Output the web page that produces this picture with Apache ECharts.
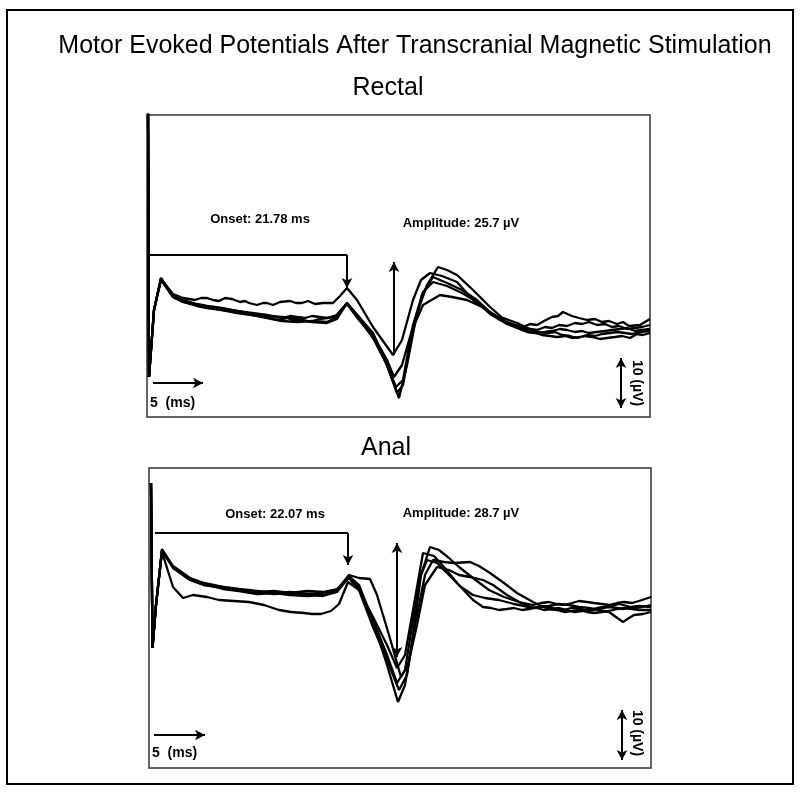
<!DOCTYPE html>
<html>
<head>
<meta charset="utf-8">
<script src="https://cdn.jsdelivr.net/npm/echarts@6/dist/echarts.min.js"></script>
<style>
  html, body { margin: 0; padding: 0; background: #fff; }
  #chart { width: 800px; height: 793px; }
</style>
</head>
<body>
<div id="chart"></div>
<script>
// traces: [time (ms), potential (µV)]
const rectal1 = [[0.1,45],[0.2,-10.4],[0.7,3],[1.4,9.2],[2.6,6.2],[3.6,5.4],[4.2,5.2],[4.8,5],[5.4,5.4],[6,5.4],[6.6,5],[7.2,4.8],[7.8,5.4],[8.5,5.2],[9.3,4.6],[9.8,4.8],[10.2,4.4],[11,4],[11.6,4.4],[12,4.4],[12.6,4],[13.3,4.6],[14.3,4.8],[14.9,4.4],[15.5,4.4],[16.1,4.8],[16.8,4.2],[17.6,4.4],[18.6,4.4],[19.3,5.8],[20,7.4],[21,5],[22.6,-0.4],[23.6,-3.2],[24.6,-6],[25.5,-3],[26.6,5],[27.4,9],[28.3,10.4],[29.5,9.8],[31,8.6],[32.6,5],[34,3],[35.3,1],[36.5,0.2],[37.6,-0.4],[38.3,0.2],[39,0],[39.7,0.8],[40.5,1.6],[41.1,1.8],[41.6,2.6],[42.5,1.8],[43.2,1.4],[44,1],[44.8,1.2],[45.5,0.6],[46.2,0.8],[47,0.2],[47.6,0.6],[48.2,-0.2],[49.3,0],[50.3,1.2]];
const rectal2 = [[0.1,45],[0.2,-10.4],[0.7,3],[1.4,9.4],[2.6,5.6],[3.6,4.6],[5,3.8],[6,3.4],[7.5,3],[9,2.6],[10.5,2],[12,1.6],[13,1],[14,1.4],[14.8,0.8],[15.5,1],[16.3,0.6],[17.2,1.2],[18.8,1.6],[20,4.4],[21.2,1.6],[22.6,-1.6],[23.8,-7],[24.8,-12.4],[25.2,-14.6],[26,-8],[27,2.4],[28,8],[29.1,11.6],[30,11],[31,10],[32.6,7],[34.3,3.6],[35.5,1.5],[37,0.4],[38.5,-1],[39.2,-1.4],[40,-1.6],[40.8,-1.4],[41.5,-2],[42.3,-2.2],[43,-2.6],[43.8,-2.2],[44.5,-2.4],[45.3,-2.8],[46,-2.6],[46.8,-2.4],[47.5,-2.2],[48.3,-2.6],[49,-1.8],[49.6,-2],[50.3,-1.6]];
const rectal3 = [[0.1,45],[0.2,-10.4],[0.7,3],[1.4,9],[2.6,5.6],[3.6,4.6],[5,4],[6,3.6],[7.5,3],[9,2.4],[10.5,2],[12,1.4],[13.5,0.8],[15,0.6],[16.5,0.8],[18,0.6],[18.8,1.4],[20,4.2],[21.2,1],[22.6,-2.2],[24,-8],[25,-13.6],[25.6,-12],[26.5,-2],[27.5,6],[28.6,9.6],[30,8.4],[31.5,7],[33,5],[34.3,2.6],[36,0.6],[37.5,-0.6],[38.3,-0.8],[39,-1],[39.8,-0.4],[40.5,-0.6],[41.2,0],[42,-0.2],[42.8,0.4],[43.5,0.2],[44.2,0.6],[45,0],[45.8,0.2],[46.5,-0.4],[47.2,-0.2],[48,-0.8],[48.8,-0.6],[49.5,-0.4],[50.3,0]];
const rectal4 = [[0.1,45],[0.2,-10.4],[0.7,3],[1.4,9.2],[2.6,5.8],[3.6,5],[5,4.2],[6,3.8],[7.5,3.4],[9,2.8],[10.5,2.2],[12,1.8],[13.5,1.6],[15,1.2],[16.5,0.6],[18,0.4],[19,1.2],[20,4.4],[21.2,1.2],[22.6,-2.6],[24,-8],[24.9,-12.4],[25.6,-11],[26.6,0],[27.6,6.6],[28.6,8.6],[30,7.8],[31.5,6.4],[33,4.6],[34.3,2.2],[36,0.2],[37.5,-1],[38.2,-1.2],[39,-1.6],[39.8,-1.4],[40.5,-1.2],[41.3,-0.8],[42,-1],[42.8,-1.4],[43.5,-1.2],[44.2,-1.6],[45,-1.4],[45.8,-1.2],[46.5,-1],[47.3,-0.8],[48,-0.6],[48.8,-1.2],[49.5,-1],[50.3,-0.8]];
const rectal5 = [[0.1,45],[0.2,-10.4],[0.7,3],[1.4,9.4],[2.6,5.6],[3.6,4.8],[5,4],[6,3.6],[7.5,3.2],[9,2.8],[10.5,2.4],[12,2],[13.5,1.4],[14.3,1.8],[15,1.6],[15.8,1.4],[16.5,1.8],[18,1.4],[19,2],[20,4.4],[21.2,1.6],[22.6,-2],[24,-7],[24.7,-10.4],[25.5,-8],[26.5,-1],[27.6,4],[29.3,6],[30.5,5.6],[32,5],[33.5,3.6],[35,1.6],[36.5,0],[38,-1.4],[38.8,-1.6],[39.5,-2],[40.3,-2.2],[41,-2.4],[41.8,-2.2],[42.5,-2.6],[43.3,-2.4],[44,-2],[44.8,-2.2],[45.5,-1.8],[46.3,-1.6],[47,-1.4],[47.8,-1.6],[48.5,-1.8],[49.3,-1.4],[50.3,-1.2]];

const anal1 = [[0.2,24.4],[0.35,-8.6],[0.7,0],[1.3,10.6],[2.4,3.6],[3.4,1.4],[4.4,2],[5.8,1.6],[7,1],[8.5,0.8],[10,0.6],[11.5,0],[13,-1],[14.2,-1.4],[15.5,-1.6],[16.3,-1.8],[17.2,-1.8],[18.2,-1.2],[19,0.2],[19.9,4.6],[21,3],[22.4,-2.4],[23.8,-8],[24.8,-12.6],[25.6,-10],[26.4,-1],[27.4,10.4],[28.5,9.8],[29.5,7.6],[30.8,4.4],[32.4,1],[33.4,-0.4],[34.2,-0.6],[35,-1],[35.8,-0.8],[36.5,-0.6],[37.3,-1],[38,-0.8],[39,-0.4],[40,-0.2],[41,0.2],[42,0],[43,-0.4],[44,-0.6],[45,-1],[46,-1.4],[46.7,-2.4],[47.4,-3.4],[48,-2.6],[48.5,-2],[49.4,-1.8],[50.2,-1.4]];
const anal2 = [[0.2,24.4],[0.35,-8.6],[0.7,0],[1.3,11],[2.4,7.6],[4.1,5],[5.5,4],[7.4,3.4],[9,3],[10.8,2.6],[12.5,2.8],[14.1,2.4],[15.8,2.2],[17.4,2.4],[18.8,3],[20,6],[21,5.4],[22.1,5.2],[22.8,2],[24,-6],[25.2,-14.4],[25.9,-12],[26.8,-4],[27.6,4],[28.8,7.6],[30,7],[31,6],[32.1,5.6],[33.4,5],[34.4,4],[35.8,2],[37.2,0.4],[38.5,-0.6],[39.2,-0.2],[40,-0.4],[40.8,-0.8],[41.5,-1],[42.2,-0.6],[43,-0.6],[43.8,-1.2],[44.5,-1],[45.3,-0.6],[46,-0.4],[46.8,-0.6],[47.5,-0.8],[48.2,-0.4],[49,-0.2],[50.2,-0.4]];
const anal3 = [[0.2,24.4],[0.35,-8.6],[0.7,0],[1.3,11],[2.4,7.6],[4.1,5.2],[5.5,4.2],[7.4,3.2],[9,2.8],[10.8,2.2],[12.5,2.4],[14.1,2],[15.8,1.8],[17.4,2],[18.8,3],[20,5.8],[21,4],[22.4,-3.2],[23.8,-12],[24.9,-19.4],[25.6,-16],[26.4,-6],[27.2,6],[28.1,11.6],[29,11],[30,9.4],[31,7.6],[32.4,5.4],[34,3],[35.5,1.6],[37,0.6],[38.4,0],[39.2,0.4],[40,0.6],[40.8,0.2],[41.5,0],[42.3,0.4],[43,0.8],[43.8,0.6],[44.5,0.4],[45.3,0.2],[46,0],[46.8,0.4],[47.5,0.6],[48.3,0.4],[49,0.8],[49.6,1.2],[50.2,1.6]];
const anal4 = [[0.2,24.4],[0.35,-8.6],[0.7,0],[1.3,10.8],[2.4,7.4],[4.1,5],[5.5,4],[7.4,3.6],[9,3],[10.8,2.6],[12.5,2.2],[14.1,2.4],[15.8,2.8],[17.4,2.6],[18.8,3.2],[20,5.4],[21,3],[22.4,-4.4],[23.8,-11],[25,-17],[25.8,-14],[26.6,-4],[27.6,6],[28.4,9],[29.5,8.6],[30.5,8.4],[32.1,8.6],[33,7.8],[34.1,6.4],[35.5,4.4],[36.8,2.4],[38.4,0.6],[39.2,-0.2],[40,-0.8],[40.8,-1],[41.5,-1.4],[42.3,-1.2],[43,-1],[43.8,-1.4],[44.5,-1.6],[45.3,-1.4],[46,-1.2],[46.8,-0.8],[47.5,-0.6],[48.3,-0.8],[49,-1],[50.2,-1]];
const anal5 = [[0.2,24.4],[0.35,-8.6],[0.7,0],[1.3,11.2],[2.4,7.8],[4.1,5.4],[5.5,4.4],[7.4,3.6],[9,3.2],[10.8,2.8],[12.5,2.4],[14.1,2.6],[15.8,2.2],[17.4,1.8],[18.8,2.6],[20,5.6],[21,3.4],[22.4,-3],[23.8,-10],[24.8,-15.6],[25.6,-13],[26.4,-3],[27,5],[27.8,9],[28.8,8.4],[30,6],[31.2,3.6],[32.4,2],[33.6,1.4],[35,1],[36.5,0.2],[38,-0.4],[38.8,-0.6],[39.5,-1],[40.3,-0.8],[41,-0.6],[41.8,-1],[42.5,-1.4],[43.3,-1.2],[44,-1],[44.8,-0.6],[45.5,-0.4],[46.3,-0.2],[47,0.2],[47.8,-0.2],[48.5,-0.6],[49.3,-0.4],[50.2,0]];

// annotations per panel
const panelNames = ['Rectal', 'Anal'];
const onsetLabels = ['Onset: 21.78 ms', 'Onset: 22.07 ms'];
const amplitudeLabels = ['Amplitude: 25.7 µV', 'Amplitude: 28.7 µV'];
const onsetBracket = [[[0, 14], [20, 14], [20, 7.4]], [[0.6, 14.4], [19.9, 14.4], [19.9, 8]]];
const amplitudeArrow = [[[24.7, -6], [24.7, 12.6]], [[24.8, 12.4], [24.8, -10.4]]];
const msBar = [[[0.6, -11.6], [5.6, -11.6]], [[0.5, -26], [5.6, -26]]];
const uvBar = [[[47.4, -6.6], [47.4, -16.6]], [[47.3, -21], [47.3, -31]]];
const labelPos = [
  { onset: [11.3, 21.2], amp: [31.4, 20.4], ms: [0.3, -15.6], uv: [49, -11.6] },
  { onset: [12.6, 18.2], amp: [31.2, 18.4], ms: [0.3, -29.6], uv: [48.8, -25.6] }
];
const xRange = [[0, 50.3], [0, 50.2]];
const yRange = [[-18.4, 42], [-32.6, 27.4]];

const chart = echarts.init(document.getElementById('chart'));
const FONT = '"Liberation Sans", Arial, sans-serif';

function seg(a, b, s0, s1) {
  return [{ coord: a, symbol: s0 }, { coord: b, symbol: s1 }];
}

function annotations(i) {
  const ob = onsetBracket[i], aa = amplitudeArrow[i], lp = labelPos[i];
  const doubleAmp = i === 1;
  const bold = { color: '#000', fontWeight: 'bold', fontSize: 13, fontFamily: FONT };
  return {
    markLine: {
      silent: true,
      animation: false,
      symbolSize: [8, 10],
      label: { show: false },
      lineStyle: { color: '#000', width: 2, type: 'solid' },
      data: [
        seg(ob[0], ob[1], 'none', 'none'),
        seg(ob[1], ob[2], 'none', 'arrow'),
        seg(aa[0], aa[1], doubleAmp ? 'arrow' : 'none', 'arrow'),
        seg(msBar[i][0], msBar[i][1], 'none', 'arrow'),
        seg(uvBar[i][0], uvBar[i][1], 'arrow', 'arrow')
      ]
    },
    markPoint: {
      silent: true,
      animation: false,
      symbol: 'circle',
      symbolSize: 0,
      label: Object.assign({ show: true, position: 'inside', formatter: '{b}' }, bold),
      data: [
        { name: onsetLabels[i], coord: lp.onset },
        { name: amplitudeLabels[i], coord: lp.amp },
        { name: '5  (ms)', coord: lp.ms, label: Object.assign({ show: true, position: 'inside', align: 'left', formatter: '{b}' }, bold, { fontSize: 14 }) },
        { name: '10 (µV)', coord: lp.uv, label: Object.assign({ show: true, position: 'inside', rotate: -90, formatter: '{b}' }, bold, { fontSize: 14 }) }
      ]
    }
  };
}

const rectalTraces = [rectal1, rectal2, rectal3, rectal4, rectal5];
const analTraces = [anal1, anal2, anal3, anal4, anal5];
const series = [];
[rectalTraces, analTraces].forEach((traces, i) => {
  traces.forEach((d, k) => {
    const s = {
      type: 'line',
      xAxisIndex: i,
      yAxisIndex: i,
      data: d,
      symbol: 'none',
      silent: true,
      clip: true,
      lineStyle: { color: '#000', width: 2.3 },
      z: 2
    };
    if (k === 0) Object.assign(s, annotations(i));
    series.push(s);
  });
});

chart.setOption({
  animation: false,
  backgroundColor: '#fff',
  grid: [
    { left: 147, top: 115, width: 503, height: 302, show: true, borderColor: '#333', borderWidth: 1.5 },
    { left: 149, top: 468, width: 502, height: 300, show: true, borderColor: '#333', borderWidth: 1.5 }
  ],
  xAxis: [0, 1].map(i => ({ type: 'value', gridIndex: i, min: xRange[i][0], max: xRange[i][1], show: false })),
  yAxis: [0, 1].map(i => ({ type: 'value', gridIndex: i, min: yRange[i][0], max: yRange[i][1], show: false })),
  graphic: [
    { type: 'rect', shape: { x: 7, y: 10, width: 786, height: 774 }, style: { fill: 'none', stroke: '#000', lineWidth: 2 }, silent: true },
    { type: 'text', x: 415, y: 46, style: { text: 'Motor Evoked Potentials After Transcranial Magnetic Stimulation', fill: '#000', font: '25px ' + FONT, align: 'center', verticalAlign: 'middle', textAlign: 'center', textVerticalAlign: 'middle' } },
    { type: 'text', x: 388, y: 88, style: { text: panelNames[0], fill: '#000', font: '25px ' + FONT, align: 'center', verticalAlign: 'middle', textAlign: 'center', textVerticalAlign: 'middle' } },
    { type: 'text', x: 386, y: 448, style: { text: panelNames[1], fill: '#000', font: '25px ' + FONT, align: 'center', verticalAlign: 'middle', textAlign: 'center', textVerticalAlign: 'middle' } }
  ],
  series: series
});
</script>
</body>
</html>
